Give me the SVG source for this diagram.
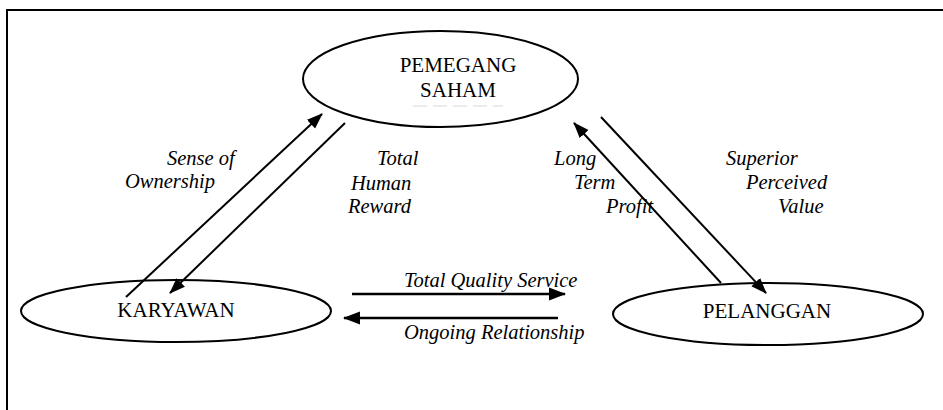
<svg xmlns="http://www.w3.org/2000/svg" width="943" height="410" viewBox="0 0 943 410">
<defs>
<style>
.frame{stroke:#000;stroke-width:2;fill:none}
.node{fill:#fff;stroke:#000;stroke-width:2}
.nl{font-size:21px;fill:#000;text-anchor:middle}
.lab{font-size:20.5px;font-style:italic;fill:#000}
.conn{stroke:#000;stroke-width:2;fill:none;marker-end:url(#ah)}
.conn2{stroke:#000;stroke-width:2.7;fill:none;marker-end:url(#ah2)}
</style>
<marker id="ah" markerUnits="userSpaceOnUse" markerWidth="18" markerHeight="14" viewBox="0 0 18 14" refX="15" refY="7" orient="auto">
<path d="M0,1 L16,7 L0,13 Z" fill="#000"/>
</marker>
<marker id="ah2" markerUnits="userSpaceOnUse" markerWidth="20" markerHeight="16" viewBox="0 0 20 16" refX="16" refY="8" orient="auto">
<path d="M0,1.5 L17,8 L0,14.5 Z" fill="#000"/>
</marker>
</defs>
<rect width="943" height="410" fill="#fff"/>
<path class="frame" d="M7,410 L7,10 L943,10"/>

<g font-family="'Liberation Serif', Tinos, 'Times New Roman', Times, 'DejaVu Serif', serif">
<g id="pemegang-saham">
<ellipse class="node" cx="440.5" cy="79" rx="137.5" ry="48"/>
<text class="nl" x="458" y="72">PEMEGANG</text>
<text class="nl" x="458" y="97">SAHAM</text>
<line x1="413" y1="106" x2="503" y2="106" stroke="#d8d8d8" stroke-width="1" stroke-dasharray="14,6"/>
</g>

<g id="karyawan">
<ellipse class="node" cx="176" cy="311" rx="155" ry="31"/>
<text class="nl" x="176" y="317">KARYAWAN</text>
</g>

<g id="pelanggan">
<ellipse class="node" cx="768" cy="314" rx="155" ry="31"/>
<text class="nl" x="767" y="318">PELANGGAN</text>
</g>

<g id="connectors">
<line class="conn" x1="126" y1="297" x2="322" y2="114"/>
<line class="conn" x1="345" y1="123" x2="170" y2="293"/>
<line class="conn" x1="721" y1="283" x2="574" y2="123"/>
<line class="conn" x1="601" y1="117" x2="766" y2="293"/>
<line class="conn2" x1="352" y1="294" x2="565" y2="294"/>
<line class="conn2" x1="558" y1="318" x2="344" y2="318"/>
</g>

<g id="labels">
<text class="lab" x="167" y="165">Sense of</text>
<text class="lab" x="125" y="188">Ownership</text>
<text class="lab" x="377" y="165">Total</text>
<text class="lab" x="351" y="190">Human</text>
<text class="lab" x="348" y="213">Reward</text>
<text class="lab" x="554" y="165">Long</text>
<text class="lab" x="574" y="189">Term</text>
<text class="lab" x="606" y="213">Profit</text>
<text class="lab" x="726" y="165">Superior</text>
<text class="lab" x="746" y="189">Perceived</text>
<text class="lab" x="778" y="213">Value</text>
<text class="lab" x="404" y="287">Total Quality Service</text>
<text class="lab" x="404" y="339">Ongoing Relationship</text>
</g>
</g>
</svg>
